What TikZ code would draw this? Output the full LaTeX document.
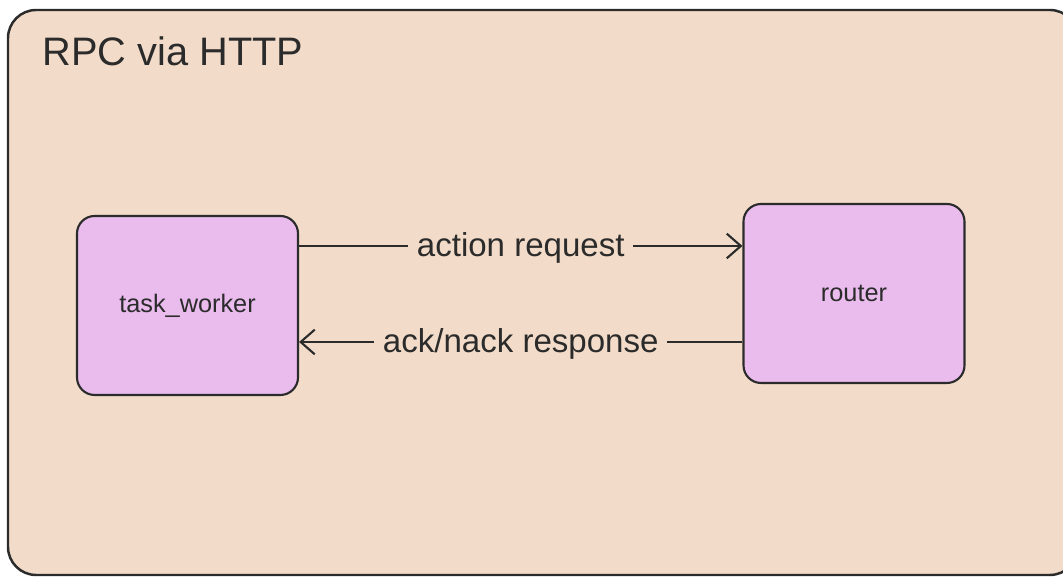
\documentclass[tikz,border=0pt]{standalone}
\usepackage{fontspec}
\setmainfont{Liberation Sans}
\usetikzlibrary{arrows.meta}
\definecolor{framefill}{HTML}{F2DCC9}
\definecolor{boxfill}{HTML}{EABCEE}
\definecolor{ink}{HTML}{2B2B2B}
\begin{document}
\begin{tikzpicture}[x=0.01cm,y=-0.01cm,
  proc/.style={draw=ink,fill=boxfill,line width=0.6pt,rounded corners=5pt,
    minimum width=221*0.01cm,minimum height=179*0.01cm,inner sep=0pt,
    font=\fontsize{7.2pt}{8pt}\selectfont,text=ink},
  conn/.style={draw=ink,line width=0.6pt,-{Straight Barb[length=4pt,width=7pt]}},
  lbl/.style={fill=framefill,inner xsep=2.5pt,inner ysep=3pt,text=ink,font=\fontsize{9.4pt}{11pt}\selectfont}]
\useasboundingbox (0,0) rectangle (1063,577);
\begin{scope}
\clip (0,0) rectangle (1063,577);
\draw[ink,fill=framefill,line width=0.7pt,rounded corners=8pt] (8,10) rectangle (1078,575);
\end{scope}
\node[anchor=base west,text=ink,font=\fontsize{11.3pt}{13pt}\selectfont,inner sep=0pt] (title) at (42,66) {RPC via HTTP};
\node[proc] (tw) at (187.5,305.5) {task\_worker};
\node[proc] (rt) at (854,293.5) {router};
\coordinate (a1s) at (tw.east |- 0,246);
\coordinate (a1e) at (rt.west |- 0,246);
\coordinate (a2s) at (rt.west |- 0,342);
\coordinate (a2e) at (tw.east |- 0,342);
\draw[conn] (a1s) -- node[lbl,yshift=-0.02cm] (l1) {action request} (a1e);
\draw[conn] (a2s) -- node[lbl,yshift=-0.02cm] (l2) {ack/nack response} (a2e);
\end{tikzpicture}
\end{document}
